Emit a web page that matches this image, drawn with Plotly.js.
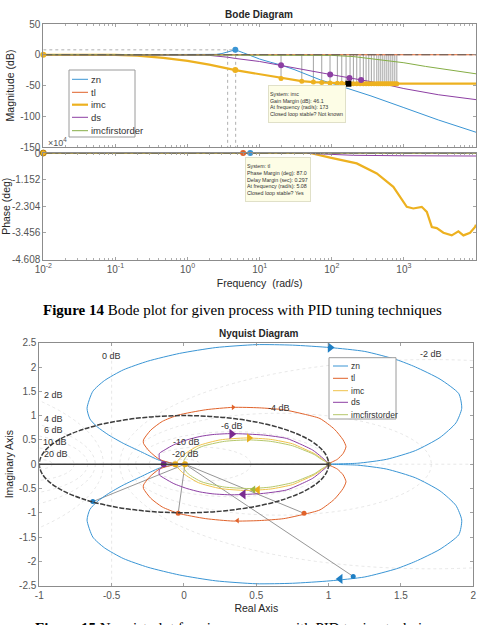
<!DOCTYPE html>
<html><head><meta charset="utf-8">
<script src="https://cdn.plot.ly/plotly-3.0.1.min.js"></script>
<style>html,body{margin:0;padding:0;background:#fff;}#chart{width:483px;height:625px;}</style>
</head><body><div id="chart"></div>
<script>
// ---------------- Bode magnitude data (rad/s, dB) ----------------
const znMagFreq = [0.01, 0.1, 1, 2, 2.5, 3, 3.6, 4.6, 6, 8, 10, 14, 20, 30, 40, 70, 110, 180, 350, 1000, 3000, 10000];
const znMagDb   = [0, 0, 0, 0.2, 0.6, 2, 4.5, 8, 3, -3, -7, -12, -17, -24, -30, -41, -48, -56, -67, -86, -106, -126];
const tlMagFreq = [0.01, 1, 2, 3.6, 5, 8, 10000];
const tlMagDb   = [0, 0, 0.2, 0.6, 0.3, 0, 0];
const imcMagFreq = [0.01, 0.05, 0.1, 0.2, 0.46, 1, 2, 4.6, 10, 21, 38, 56, 72, 95, 150, 300, 1000, 10000];
const imcMagDb   = [0, 0, -0.3, -1.5, -5, -10, -16, -25, -32, -38.5, -43, -44.5, -45, -46, -46.5, -47, -47, -47];
const dsMagFreq = [0.01, 1, 2, 3.6, 4.6, 10, 20, 40, 95, 176, 255, 500, 1000, 3000, 10000];
const dsMagDb   = [0, 0, -1, -4, -6, -11, -17, -24, -32, -38, -41, -47, -55, -65, -73];
const imcfoMagFreq = [0.01, 50, 100, 200, 400, 1000, 2000, 5000, 10000];
const imcfoMagDb   = [0, -0.3, -1, -3, -7, -13, -19, -26, -31];

// imc gain-margin crossing frequencies and magnitudes
const imcGmFreq = [19.8, 38.4, 55.6, 72.6, 94.6, 119.6, 137.6, 157.9, 179.4, 199.5, 222, 246.8, 274, 299, 326, 354, 386, 421, 449, 478, 510, 544, 580, 618, 659, 702, 748, 798];
const imcGmDb   = [-38.5, -43, -44.5, -45, -46, -46.5, -46.5, -47, -47, -47, -47, -47, -47, -47, -47, -47, -47, -47, -47, -47, -47, -47, -47, -47, -47, -47, -47, -47];
const dsGmFreq = [19.8, 95, 176, 255];
const dsGmDb   = [-17, -32, -38, -41];
const znPeakFreq = [4.6], znPeakDb = [8];
const imcMarkFreq = [0.01, 4.6], imcMarkDb = [0, -25];
const refLineFreq = [3.6, 4.65];
const gmTipFreq = [170], gmTipDb = [-47];

// ---------------- Bode phase data (rad/s, deg) ----------------
const flatPhFreq = [0.01, 10000];
const flatPhDeg  = [0, 0];
const dsPhFreq = [0.01, 40, 70, 100, 200, 1000, 10000];
const dsPhDeg  = [0, 0, -400, -700, -1000, -1200, -1300];
const imcPhFreq = [0.01, 50, 95, 222, 421, 714, 1097, 1350, 1770, 2080, 2440, 2860, 3530, 4610, 5700, 6690, 8280, 9700, 10000];
const imcPhDeg  = [0, 0, -2000, -4500, -8850, -14650, -23300, -24000, -23300, -25500, -32000, -32500, -34500, -35650, -33900, -35650, -34500, -32000, -31000];
const tlPmFreq = [5.9], znPmFreq = [7.4];

// ---------------- Nyquist data (upper half, from w=0 to w=inf) ----------------
const znRe = [1, 1.2, 1.4, 1.6, 1.77, 1.88, 1.92, 1.9, 1.77, 1.6, 1.47, 1.25, 1.01, 0.75, 0.5, 0.22, -0.03, -0.25, -0.42, -0.55, -0.63, -0.67, -0.65, -0.6, -0.52, -0.42, -0.3, -0.17, -0.08, 0];
const znIm = [0, 0.02, 0.1, 0.28, 0.55, 0.85, 1.15, 1.45, 1.75, 2.0, 2.15, 2.32, 2.40, 2.45, 2.46, 2.40, 2.28, 2.12, 1.94, 1.72, 1.5, 1.15, 0.93, 0.77, 0.6, 0.43, 0.26, 0.08, 0.02, 0];
const tlRe = [1, 1.06, 1.1, 1.12, 1.1, 1.04, 0.94, 0.83, 0.69, 0.52, 0.34, 0.15, -0.04, -0.15, -0.23, -0.28, -0.28, -0.24, -0.17, -0.08, 0];
const tlIm = [0, 0.1, 0.22, 0.36, 0.5, 0.72, 0.94, 1.03, 1.12, 1.16, 1.17, 1.12, 1.01, 0.88, 0.7, 0.5, 0.43, 0.27, 0.1, 0.02, 0];
const imcRe = [1, 0.95, 0.9, 0.82, 0.75, 0.6, 0.43, 0.25, 0.1, 0.0, -0.04, -0.06];
const imcIm = [0, 0.12, 0.22, 0.33, 0.42, 0.51, 0.54, 0.5, 0.38, 0.2, 0.08, 0];
const dsRe = [1, 0.95, 0.89, 0.8, 0.71, 0.55, 0.33, 0.2, 0.11, 0.02, -0.07, -0.13, -0.17, -0.17, -0.15, -0.14];
const dsIm = [0, 0.15, 0.29, 0.42, 0.53, 0.6, 0.63, 0.61, 0.57, 0.5, 0.4, 0.3, 0.22, 0.12, 0.05, 0];
const imcfoRe = [1, 0.95, 0.9, 0.82, 0.75, 0.6, 0.45, 0.28, 0.12, 0.03, 0.0, 0.007];
const imcfoIm = [0, 0.1, 0.2, 0.3, 0.38, 0.47, 0.5, 0.47, 0.36, 0.2, 0.08, 0];

// direction arrows [re, im] upper (right-pointing) and lower (left-pointing)
const znArrUpRe = [1.01], znArrUpIm = [2.40], znArrLoRe = [1.08], znArrLoIm = [-2.36];
const tlArrUpRe = [0.34], tlArrUpIm = [1.17], tlArrLoRe = [0.37], tlArrLoIm = [-1.16];
const dsArrUpRe = [0.33], dsArrUpIm = [0.62], dsArrLoRe = [0.41], dsArrLoIm = [-0.62];
const imcArrUpRe = [0.45], imcArrUpIm = [0.54], imcArrLoRe = [0.51], imcArrLoIm = [-0.53];
const imcfoArrLoRe = [0.48], imcfoArrLoIm = [-0.52];

// stability-margin points
const znMarginRe = [-0.63, 1.17], znMarginIm = [-0.77, -2.31];
const tlMarginRe = [-0.04, 0.83], tlMarginIm = [-1.01, -1.01];
const dsMarginRe = [-0.14], dsMarginIm = [0];
const imcMarginRe = [-0.06, 0.007], imcMarginIm = [0, 0];

// tick labels
const freqTickVals = [0.01, 0.1, 1, 10, 100, 1000, 10000];
const freqTickText = ['10<sup>-2</sup>', '10<sup>-1</sup>', '10<sup>0</sup>', '10<sup>1</sup>', '10<sup>2</sup>', '10<sup>3</sup>', '10<sup>4</sup>'];
const magTickVals = [50, 0, -50, -100, -150];
const magTickText = ['50', '0', '-50', '-100', '-150'];
const phTickVals = [0, -11520, -23040, -34560, -46080];
const phTickText = ['0', '-1.152', '-2.304', '-3.456', '-4.608'];
const reTickVals = [-1, -0.5, 0, 0.5, 1, 1.5, 2];
const reTickText = ['-1', '-0.5', '0', '0.5', '1', '1.5', '2'];
const imTickVals = [2.5, 2, 1.5, 1, 0.5, 0, -0.5, -1, -1.5, -2, -2.5];
const imTickText = ['2.5', '2', '1.5', '1', '0.5', '0', '-0.5', '-1', '-1.5', '-2', '-2.5'];
const mCircleDb = [-20, -10, -6, -4, -2, 2, 4, 6, 10, 20];
const seriesNames = ['zn', 'tl', 'imc', 'ds', 'imcfirstorder'];

// ---------------- styling ----------------
const W = 483, H = 625;
const fx = p => p / W, fy = p => 1 - p / H;
const C = {zn: '#3a95d4', tl: '#e0622a', imc: '#edb120', ds: '#8d3fa3', imcfo: '#85ad45', imcNy: '#efc24a', imcfoNy: '#b5c76a'};
const FONT = 'Liberation Sans, Arial, Helvetica, sans-serif';
const tickFont = {family: FONT, size: 10, color: '#555'};
const titleFont = {family: FONT, size: 10.5, color: '#262626'};

const minorLog = [];
for (let d = -2; d < 4; d++) for (let k = 2; k <= 9; k++) minorLog.push(k * Math.pow(10, d));

function baseAx(extra) {
  return Object.assign({
    showline: true, linecolor: '#8c8c8c', linewidth: 1, mirror: 'ticks',
    ticks: 'inside', ticklen: 3, tickcolor: '#8c8c8c', tickwidth: 0.8,
    tickfont: tickFont, zeroline: false, showgrid: false, fixedrange: true,
    automargin: false, tickmode: 'array'
  }, extra);
}

const data = [];
const nul = null;
function segs(xs0, ys0, xs1, ys1) {
  const x = [], y = [];
  for (let i = 0; i < xs0.length; i++) { x.push(xs0[i], xs1[i], nul); y.push(ys0[i], ys1[i], nul); }
  return {x, y};
}

// ---- Bode magnitude (x, y) ----
{
  const g = segs(imcGmFreq, imcGmFreq.map(() => 0), imcGmFreq, imcGmDb);
  data.push({x: g.x, y: g.y, xaxis: 'x', yaxis: 'y', mode: 'lines', line: {color: '#a3a3a3', width: 1}, hoverinfo: 'skip'});
  const v = segs(refLineFreq, refLineFreq.map(() => znPeakDb[0]), refLineFreq, refLineFreq.map(() => -150));
  data.push({x: v.x, y: v.y, xaxis: 'x', yaxis: 'y', mode: 'lines', line: {color: '#9a9a9a', width: 0.8, dash: 'dot'}, hoverinfo: 'skip'});
  data.push({x: [0.01, znPeakFreq[0]], y: [znPeakDb[0], znPeakDb[0]], xaxis: 'x', yaxis: 'y', mode: 'lines', line: {color: '#9a9a9a', width: 0.8, dash: 'dot'}, hoverinfo: 'skip'});
}
data.push({name: 'zn', x: znMagFreq, y: znMagDb, xaxis: 'x', yaxis: 'y', mode: 'lines', line: {color: C.zn, width: 1}});
data.push({name: 'tl', x: tlMagFreq, y: tlMagDb, xaxis: 'x', yaxis: 'y', mode: 'lines', line: {color: C.tl, width: 1}});
data.push({name: 'imc', x: imcMagFreq, y: imcMagDb, xaxis: 'x', yaxis: 'y', mode: 'lines', line: {color: C.imc, width: 2.2}});
data.push({name: 'ds', x: dsMagFreq, y: dsMagDb, xaxis: 'x', yaxis: 'y', mode: 'lines', line: {color: C.ds, width: 1}});
data.push({name: 'imcfirstorder', x: imcfoMagFreq, y: imcfoMagDb, xaxis: 'x', yaxis: 'y', mode: 'lines', line: {color: C.imcfo, width: 1}});
data.push({x: [0.01, 10000], y: [0, 0], xaxis: 'x', yaxis: 'y', mode: 'lines', line: {color: '#5a5a5a', width: 1.2, dash: 'dashdot'}, hoverinfo: 'skip'});
data.push({x: imcGmFreq, y: imcGmDb, xaxis: 'x', yaxis: 'y', mode: 'markers', marker: {color: C.imc, size: 5}, hoverinfo: 'skip'});
data.push({x: imcMarkFreq, y: imcMarkDb, xaxis: 'x', yaxis: 'y', mode: 'markers', marker: {color: C.imc, size: 6}, hoverinfo: 'skip', cliponaxis: false});
data.push({x: dsGmFreq, y: dsGmDb, xaxis: 'x', yaxis: 'y', mode: 'markers', marker: {color: C.ds, size: 6}, hoverinfo: 'skip'});
data.push({x: znPeakFreq, y: znPeakDb, xaxis: 'x', yaxis: 'y', mode: 'markers', marker: {color: C.zn, size: 6}, hoverinfo: 'skip'});
data.push({x: gmTipFreq, y: gmTipDb, xaxis: 'x', yaxis: 'y', mode: 'markers', marker: {color: '#000', size: 6, symbol: 'square'}, hoverinfo: 'skip'});

// ---- Bode phase (x2, y2) ----
data.push({x: flatPhFreq, y: flatPhDeg, xaxis: 'x2', yaxis: 'y2', mode: 'lines', line: {color: C.zn, width: 1}, hoverinfo: 'skip'});
data.push({x: flatPhFreq, y: flatPhDeg, xaxis: 'x2', yaxis: 'y2', mode: 'lines', line: {color: C.tl, width: 1}, hoverinfo: 'skip'});
data.push({x: imcPhFreq, y: imcPhDeg, xaxis: 'x2', yaxis: 'y2', mode: 'lines', line: {color: C.imc, width: 2.2}, hoverinfo: 'skip'});
data.push({x: dsPhFreq, y: dsPhDeg, xaxis: 'x2', yaxis: 'y2', mode: 'lines', line: {color: C.ds, width: 1}, hoverinfo: 'skip'});
data.push({x: flatPhFreq, y: flatPhDeg, xaxis: 'x2', yaxis: 'y2', mode: 'lines', line: {color: C.imcfo, width: 1}, hoverinfo: 'skip'});
data.push({x: [0.01, 10000], y: [0, 0], xaxis: 'x2', yaxis: 'y2', mode: 'lines', line: {color: '#5a5a5a', width: 1.2, dash: 'dashdot'}, hoverinfo: 'skip'});
data.push({x: tlPmFreq, y: [0], xaxis: 'x2', yaxis: 'y2', mode: 'markers', marker: {color: C.tl, size: 6}, hoverinfo: 'skip', cliponaxis: false});
data.push({x: znPmFreq, y: [0], xaxis: 'x2', yaxis: 'y2', mode: 'markers', marker: {color: C.zn, size: 6}, hoverinfo: 'skip', cliponaxis: false});
data.push({x: [0.01], y: [0], xaxis: 'x2', yaxis: 'y2', mode: 'markers', marker: {color: C.imc, size: 6, line: {color: '#b07a10', width: 1}}, hoverinfo: 'skip', cliponaxis: false});

// ---- Nyquist (x3, y3) ----
function full(re, im) {
  const rr = re.slice().reverse(), ii = im.slice().reverse();
  return {x: re.concat(rr), y: im.concat(ii.map(v => -v))};
}
{
  const allRe = [].concat(znMarginRe, tlMarginRe);
  const allIm = [].concat(znMarginIm, tlMarginIm);
  const g = segs(allRe.map(() => 0.007), allRe.map(() => 0), allRe, allIm);
  data.push({x: g.x, y: g.y, xaxis: 'x3', yaxis: 'y3', mode: 'lines', line: {color: '#8a8a8a', width: 0.9}, hoverinfo: 'skip'});
}
const nyq = [[znRe, znIm, C.zn, 'zn'], [tlRe, tlIm, C.tl, 'tl'], [imcRe, imcIm, C.imcNy, 'imc'], [dsRe, dsIm, C.ds, 'ds'], [imcfoRe, imcfoIm, C.imcfoNy, 'imcfirstorder']];
nyq.forEach(s => {
  const f = full(s[0], s[1]);
  data.push({name: s[3], x: f.x, y: f.y, xaxis: 'x3', yaxis: 'y3', mode: 'lines', line: {color: s[2], width: 1, shape: 'spline', smoothing: 0.6}});
});
function mk(x, y, color, size, symbol) {
  data.push({x, y, xaxis: 'x3', yaxis: 'y3', mode: 'markers', marker: {color, size, symbol}, hoverinfo: 'skip'});
}
mk(znArrUpRe, znArrUpIm, '#1f7fc4', 9, 'triangle-right');
mk(znArrLoRe, znArrLoIm, '#1f7fc4', 9, 'triangle-left');
mk(tlArrUpRe, tlArrUpIm, C.tl, 5, 'triangle-right');
mk(tlArrLoRe, tlArrLoIm, C.tl, 5, 'triangle-left');
mk(dsArrUpRe, dsArrUpIm, '#7a2b90', 9, 'triangle-right');
mk(dsArrLoRe, dsArrLoIm, '#7a2b90', 9, 'triangle-left');
mk(imcArrUpRe, imcArrUpIm, '#e8ac1a', 8, 'triangle-right');
mk(imcArrLoRe, imcArrLoIm, '#e8ac1a', 8, 'triangle-left');
mk(imcfoArrLoRe, imcfoArrLoIm, '#a0b840', 7, 'triangle-left');
mk(znMarginRe, znMarginIm, '#1f7fc4', 5, 'circle');
mk(tlMarginRe, tlMarginIm, C.tl, 5, 'circle');
mk(dsMarginRe, dsMarginIm, '#7a2b90', 6, 'circle');
mk(imcMarginRe, imcMarginIm, '#e8ac1a', 6, 'circle');
mk([1], [0], '#8a7a50', 5, 'circle');

// ---- shapes: Nyquist grid (M-circles), unit circle ----
const shapes = [];
const gridLine = {color: '#d6d6d6', width: 0.6, dash: 'dot'};
mCircleDb.forEach(db => {
  const M = Math.pow(10, db / 20), M2 = M * M;
  const c = -M2 / (M2 - 1), r = Math.abs(M / (M2 - 1));
  shapes.push({type: 'circle', xref: 'x3', yref: 'y3', x0: c - r, x1: c + r, y0: -r, y1: r, layer: 'below', line: gridLine});
});
shapes.push({type: 'line', xref: 'x3', yref: 'y3', x0: -0.5, x1: -0.5, y0: -2.5, y1: 2.5, layer: 'below', line: gridLine});
shapes.push({type: 'line', xref: 'x3 domain', yref: 'y3', x0: 0, x1: 1, y0: 0, y1: 0, layer: 'below', line: gridLine});
shapes.push({type: 'circle', xref: 'x3', yref: 'y3', x0: -1, x1: 1, y0: -1, y1: 1, layer: 'above', line: {color: '#3c3c3c', width: 1.5, dash: '5px,1.5px'}});
shapes.push({type: 'line', xref: 'x3', yref: 'y3', x0: -1, x1: 1, y0: 0, y1: 0, layer: 'above', line: {color: '#3c3c3c', width: 1.4}});

// ---- annotations ----
const lblFont = {family: FONT, size: 9, color: '#333'};
const mLabels = [['0 dB', -0.50, 2.23], ['-2 dB', 1.706, 2.26], ['2 dB', -0.903, 1.42], ['4 dB', -0.903, 0.94], ['6 dB', -0.903, 0.70], ['10 dB', -0.891, 0.46], ['20 dB', -0.886, 0.21], ['-4 dB', 0.659, 1.15], ['-6 dB', 0.333, 0.79], ['-10 dB', 0.019, 0.46], ['-20 dB', 0.012, 0.21]];
const annotations = mLabels.map(l => ({text: l[0], x: l[1], y: l[2], xref: 'x3', yref: 'y3', showarrow: false, font: lblFont, xanchor: 'center', yanchor: 'middle'}));
annotations.push({text: '<b>Nyquist Diagram</b>', xref: 'paper', yref: 'paper', x: fx(259), y: fy(333), showarrow: false, font: {family: FONT, size: 10, color: '#262626'}});
annotations.push({text: '×10<sup>4</sup>', xref: 'paper', yref: 'paper', x: fx(46), y: fy(142), xanchor: 'left', yanchor: 'middle', showarrow: false, font: {family: FONT, size: 9, color: '#555'}});
annotations.push({text: 'System: imc<br>Gain Margin (dB): 46.1<br>At frequency (rad/s): 173<br>Closed loop stable? Not known', xref: 'paper', yref: 'paper', x: fx(268.3), y: fy(85), xanchor: 'left', yanchor: 'top', width: 74, height: 34, align: 'left', valign: 'middle', showarrow: false, bgcolor: '#fdfde6', bordercolor: '#e0e0c8', borderwidth: 1, font: {family: FONT, size: 5.3, color: '#333'}});
annotations.push({text: 'System: tl<br>Phase Margin (deg): 87.0<br>Delay Margin (sec): 0.297<br>At frequency (rad/s): 5.08<br>Closed loop stable? Yes', xref: 'paper', yref: 'paper', x: fx(245), y: fy(157.3), xanchor: 'left', yanchor: 'top', width: 62, height: 41, align: 'left', valign: 'middle', showarrow: false, bgcolor: '#fdfde6', bordercolor: '#e0e0c8', borderwidth: 1, font: {family: FONT, size: 5.3, color: '#333'}});
const capFont = {family: 'Liberation Serif, Times New Roman, serif', size: 15, color: '#000'};
annotations.push({text: '<b>Figure 14</b> Bode plot for given process with PID tuning techniques', xref: 'paper', yref: 'paper', x: fx(242), y: fy(310), xanchor: 'center', yanchor: 'middle', showarrow: false, font: capFont});
annotations.push({text: '<b>Figure 15</b> Nyquist plot for given process with PID tuning techniques', xref: 'paper', yref: 'paper', x: fx(242), y: fy(617.5), xanchor: 'center', yanchor: 'top', showarrow: false, font: capFont});

// ---- compact MATLAB-style legends (box, line samples, labels) ----
const bodeLegColors = [C.zn, C.tl, C.imc, C.ds, C.imcfo];
const bodeLegWidths = [1, 1, 2.2, 1, 1];
const nyqLegColors = [C.zn, C.tl, C.imcNy, C.ds, C.imcfoNy];
function legendBox(left, top, right, bottom, rowY, lineX0, lineX1, textX, colors, widths, fsize) {
  shapes.push({type: 'rect', xref: 'paper', yref: 'paper', x0: fx(left), x1: fx(right), y0: fy(bottom), y1: fy(top), fillcolor: '#ffffff', line: {color: '#9a9a9a', width: 1}, layer: 'above'});
  seriesNames.forEach((nm, i) => {
    shapes.push({type: 'line', xref: 'paper', yref: 'paper', x0: fx(lineX0), x1: fx(lineX1), y0: fy(rowY[i]), y1: fy(rowY[i]), line: {color: colors[i], width: widths[i]}, layer: 'above'});
    annotations.push({text: nm, xref: 'paper', yref: 'paper', x: fx(textX), y: fy(rowY[i]), xanchor: 'left', yanchor: 'middle', showarrow: false, font: {family: FONT, size: fsize, color: '#333'}});
  });
}
legendBox(69, 70, 135, 137, [79.3, 92.3, 104.7, 117.3, 130.7], 72, 88, 88.5, bodeLegColors, bodeLegWidths, 9.5);
legendBox(329, 357.7, 396, 419, [366, 378.3, 390.7, 402.3, 414.7], 333, 348, 349, nyqLegColors, [1, 1, 1, 1, 1], 8.5);

const layout = {
  width: W, height: H, margin: {l: 0, r: 0, t: 0, b: 0}, paper_bgcolor: '#fff', plot_bgcolor: '#fff',
  title: {text: '<b>Bode Diagram</b>', x: fx(259), y: fy(14), xanchor: 'center', yanchor: 'middle', xref: 'paper', yref: 'paper', font: {family: FONT, size: 10, color: '#262626'}},
  showlegend: false,
  xaxis: baseAx({domain: [fx(43.3), fx(476)], anchor: 'y', type: 'log', range: [-2, 4], tickvals: freqTickVals, ticktext: freqTickText, showticklabels: false, minor: {ticks: 'inside', ticklen: 2, tickcolor: '#9a9a9a', tickmode: 'array', tickvals: minorLog}}),
  yaxis: baseAx({domain: [fy(147), fy(24)], anchor: 'x', range: [-150, 50], tickvals: magTickVals, ticktext: magTickText, title: {text: 'Magnitude (dB)', font: titleFont, standoff: 3}}),
  xaxis2: baseAx({domain: [fx(43.3), fx(476)], anchor: 'y2', type: 'log', range: [-2, 4], tickvals: freqTickVals, ticktext: freqTickText, minor: {ticks: 'inside', ticklen: 2, tickcolor: '#9a9a9a', tickmode: 'array', tickvals: minorLog}, title: {text: 'Frequency  (rad/s)', font: titleFont, standoff: 6}}),
  yaxis2: baseAx({domain: [fy(259.5), fy(153)], anchor: 'x2', range: [-46080, 0], tickvals: phTickVals, ticktext: phTickText, title: {text: 'Phase (deg)', font: titleFont, standoff: 2}}),
  xaxis3: baseAx({domain: [fx(39.3), fx(473.3)], anchor: 'y3', range: [-1, 2], tickvals: reTickVals, ticktext: reTickText, title: {text: 'Real Axis', font: titleFont, standoff: 4}}),
  yaxis3: baseAx({domain: [fy(585.7), fy(342.7)], anchor: 'x3', range: [-2.5, 2.5], tickvals: imTickVals, ticktext: imTickText, title: {text: 'Imaginary Axis', font: titleFont, standoff: 3}}),
  shapes, annotations
};

Plotly.newPlot('chart', data, layout, {displayModeBar: false, staticPlot: true});
</script></body></html>
